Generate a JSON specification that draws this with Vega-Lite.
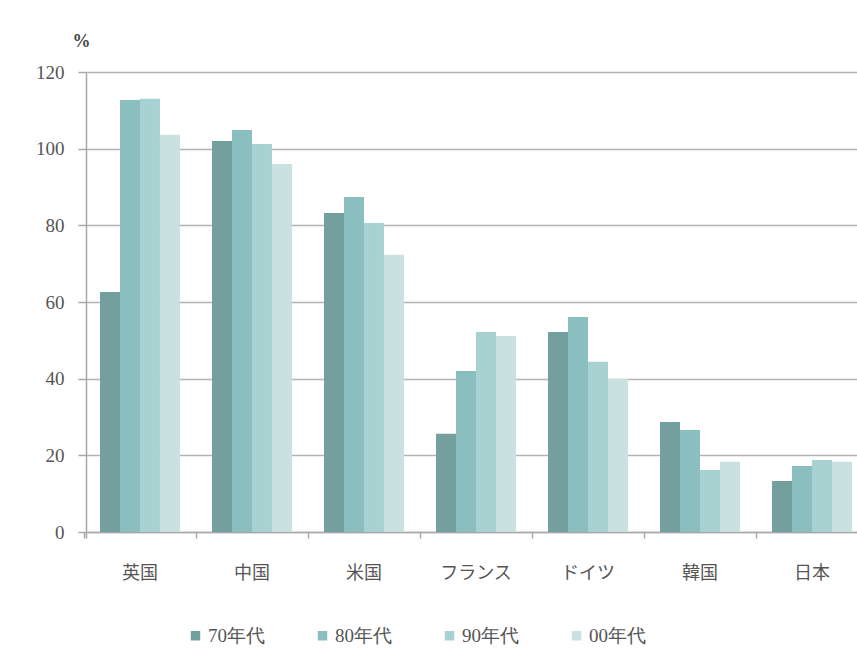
{
  "$schema": "https://vega.github.io/schema/vega-lite/v6.json",
  "width": 771,
  "height": 460,
  "autosize": {"type": "none"},
  "padding": {"left": 86, "top": 72, "right": 0, "bottom": 138},
  "background": "#ffffff",
  "config": {"view": {"stroke": null}},
  "data": {"values": [
    {"country": "英国", "decade": "70年代", "value": 62.6},
    {"country": "英国", "decade": "80年代", "value": 112.7},
    {"country": "英国", "decade": "90年代", "value": 113.0},
    {"country": "英国", "decade": "00年代", "value": 103.6},
    {"country": "中国", "decade": "70年代", "value": 102.0},
    {"country": "中国", "decade": "80年代", "value": 104.9},
    {"country": "中国", "decade": "90年代", "value": 101.2},
    {"country": "中国", "decade": "00年代", "value": 96.0},
    {"country": "米国", "decade": "70年代", "value": 83.2},
    {"country": "米国", "decade": "80年代", "value": 87.4},
    {"country": "米国", "decade": "90年代", "value": 80.6},
    {"country": "米国", "decade": "00年代", "value": 72.3},
    {"country": "フランス", "decade": "70年代", "value": 25.6},
    {"country": "フランス", "decade": "80年代", "value": 42.0},
    {"country": "フランス", "decade": "90年代", "value": 52.2},
    {"country": "フランス", "decade": "00年代", "value": 51.1},
    {"country": "ドイツ", "decade": "70年代", "value": 52.2},
    {"country": "ドイツ", "decade": "80年代", "value": 56.1},
    {"country": "ドイツ", "decade": "90年代", "value": 44.4},
    {"country": "ドイツ", "decade": "00年代", "value": 39.9},
    {"country": "韓国", "decade": "70年代", "value": 28.7},
    {"country": "韓国", "decade": "80年代", "value": 26.6},
    {"country": "韓国", "decade": "90年代", "value": 16.2},
    {"country": "韓国", "decade": "00年代", "value": 18.3},
    {"country": "日本", "decade": "70年代", "value": 13.3},
    {"country": "日本", "decade": "80年代", "value": 17.2},
    {"country": "日本", "decade": "90年代", "value": 18.8},
    {"country": "日本", "decade": "00年代", "value": 18.3}
  ]},
  "layer": [
    {
      "mark": {"type": "bar"},
      "encoding": {
        "x": {
          "field": "country", "type": "nominal", "sort": null,
          "scale": {"range": [0, 780], "paddingInner": 0.286, "paddingOuter": 0.125},
          "axis": {
            "orient": "bottom",
            "title": null, "labelAngle": 0, "ticks": false,
            "domainColor": "#a8a8a8", "domainWidth": 1.5,
            "labelFont": "Noto Sans CJK JP", "labelFontSize": 18,
            "labelColor": "#555555", "labelPadding": 32, "grid": false
          }
        },
        "xOffset": {"field": "decade", "type": "nominal", "sort": null},
        "y": {
          "field": "value", "type": "quantitative",
          "scale": {"domain": [0, 120], "nice": false},
          "axis": {
            "values": [0, 20, 40, 60, 80, 100, 120],
            "title": "%", "titleAngle": 0, "titleAlign": "left", "titleBaseline": "bottom",
            "titleX": -14, "titleY": -22, "titleFont": "Liberation Serif", "titleFontSize": 18,
            "titleColor": "#444444", "titleFontWeight": "bold",
            "labelFont": "Liberation Serif", "labelFontSize": 19, "labelColor": "#555555",
            "labelPadding": 14,
            "domainColor": "#a8a8a8", "domainWidth": 1.5,
            "tickColor": "#a8a8a8", "tickSize": 8, "tickWidth": 1.5,
            "gridColor": "#b4b4b4", "gridWidth": 1.5
          }
        },
        "color": {
          "field": "decade", "type": "nominal", "sort": null,
          "scale": {
            "domain": ["70年代", "80年代", "90年代", "00年代"],
            "range": ["#739f9e", "#8bbfbf", "#a8d2d2", "#c9e1e0"]
          },
          "legend": {
            "title": null, "orient": "none", "direction": "horizontal",
            "legendX": 100, "legendY": 554,
            "symbolType": "square", "symbolSize": 90, "symbolStrokeWidth": 0,
            "labelFont": "Liberation Serif", "labelFontSize": 19, "labelColor": "#555555",
            "labelOffset": 3, "columnPadding": 48
          }
        }
      }
    },
    {
      "mark": {"type": "tick", "opacity": 0},
      "encoding": {
        "x": {
          "field": "country", "type": "nominal", "sort": null,
          "axis": {
            "orient": "bottom",
            "title": null, "labels": false, "domain": false, "grid": false,
            "bandPosition": 0, "tickExtra": true, "tickOffset": -16,
            "ticks": true, "tickColor": "#a8a8a8", "tickSize": 6, "tickWidth": 1.5
          }
        }
      }
    }
  ],
  "resolve": {"axis": {"x": "independent"}}
}
